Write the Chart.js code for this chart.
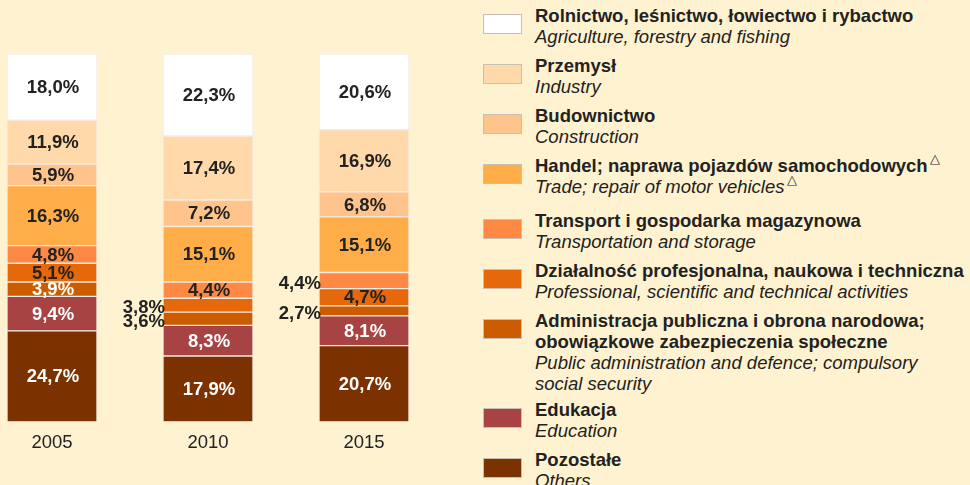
<!DOCTYPE html>
<html>
<head>
<meta charset="utf-8">
<script src="https://cdn.jsdelivr.net/npm/chart.js@4.4.0/dist/chart.umd.min.js"></script>
<style>
html, body { margin: 0; padding: 0; background: #fff2d0; width: 970px; height: 485px; overflow: hidden;
  font-family: "Liberation Sans", Arial, sans-serif; color: #222; }
#chartBox { position: absolute; left: -26px; top: 0; width: 468px; height: 485px; }
#legend { position: absolute; left: 483px; top: 5px; }
.item { display: flex; margin-bottom: 8px; }
.sw { width: 37px; height: 18px; border: 1px solid #c9c0b5; margin-top: 9px; margin-right: 13px; flex: none; }
.pl { font-weight: bold; font-size: 18.5px; line-height: 21px; white-space: nowrap; }
.en { font-style: italic; font-size: 18.5px; line-height: 21px; white-space: nowrap; }
.tri { display: inline-block; line-height: 0; font-size: 13px; position: relative; top: -9px; margin-left: 2px;
  font-style: normal; font-weight: normal; }
</style>
</head>
<body>
<div id="chartBox"><canvas id="barChart"></canvas></div>
<div id="legend"></div>
<script>
// years on the x axis
var years = ['2005', '2010', '2015'];

// legend order (top to bottom)
var namesPl = ['Rolnictwo, leśnictwo, łowiectwo i rybactwo', 'Przemysł', 'Budownictwo',
  'Handel; naprawa pojazdów samochodowych', 'Transport i gospodarka magazynowa',
  'Działalność profesjonalna, naukowa i techniczna',
  'Administracja publiczna i obrona narodowa;<br>obowiązkowe zabezpieczenia społeczne',
  'Edukacja', 'Pozostałe'];
var namesEn = ['Agriculture, forestry and fishing', 'Industry', 'Construction',
  'Trade; repair of motor vehicles', 'Transportation and storage',
  'Professional, scientific and technical activities',
  'Public administration and defence; compulsory<br>social security',
  'Education', 'Others'];
var colors = ['#ffffff', '#ffd9a9', '#ffc38c', '#ffad49', '#fd8944', '#e5690a', '#cc5c00', '#a84343', '#7c3100'];
var labelColors = ['#222', '#222', '#222', '#222', '#222', '#222', '#fff', '#fff', '#fff'];

// values in %, per category, for 2005 / 2010 / 2015
var agriculture = [18.0, 22.3, 20.6];
var industry = [11.9, 17.4, 16.9];
var construction = [5.9, 7.2, 6.8];
var trade = [16.3, 15.1, 15.1];
var transport = [4.8, 4.4, 4.4];
var professional = [5.1, 3.8, 4.7];
var publicAdmin = [3.9, 3.6, 2.7];
var education = [9.4, 8.3, 8.1];
var others = [24.7, 17.9, 20.7];

var values = [agriculture, industry, construction, trade, transport, professional, publicAdmin, education, others];

// labels drawn beside the bar instead of inside: [category index, year index]
var outside = [[5, 1], [6, 1], [4, 2], [6, 2]];

// legend
var lg = document.getElementById('legend');
namesPl.forEach(function (n, i) {
  var tri = i === 3 ? '<span class="tri">△</span>' : '';
  var d = document.createElement('div');
  d.className = 'item';
  if (i === 3) d.style.marginBottom = '13px';
  if (i === 6) d.style.marginBottom = '5px';
  d.innerHTML = '<div class="sw" style="background:' + colors[i] + '"></div><div><div class="pl">' + n + tri +
    '</div><div class="en">' + namesEn[i] + tri + '</div></div>';
  lg.appendChild(d);
});

// stacked bottom-up, so reverse the legend order
var datasets = [];
for (var i = values.length - 1; i >= 0; i--) {
  datasets.push({
    label: namesEn[i],
    data: values[i],
    backgroundColor: colors[i],
    borderColor: '#f3ece4',
    borderWidth: 1,
    borderSkipped: false,
    barThickness: 90,
    catIndex: i
  });
}

var valueLabels = {
  id: 'valueLabels',
  afterDatasetsDraw: function (chart) {
    var ctx = chart.ctx;
    ctx.save();
    ctx.font = 'bold 18.5px "Liberation Sans", Arial, sans-serif';
    ctx.textBaseline = 'middle';
    chart.data.datasets.forEach(function (ds, di) {
      chart.getDatasetMeta(di).data.forEach(function (bar, j) {
        var txt = ds.data[j].toFixed(1).replace('.', ',') + '%';
        var cy = (bar.y + bar.base) / 2 + 1;
        var out = outside.some(function (o) { return o[0] === ds.catIndex && o[1] === j; });
        if (out) {
          ctx.fillStyle = '#222';
          ctx.textAlign = 'right';
          ctx.fillText(txt, bar.x - bar.width / 2 + 2, cy + 2);
        } else {
          ctx.fillStyle = labelColors[ds.catIndex];
          ctx.textAlign = 'center';
          ctx.fillText(txt, bar.x + 1, cy);
        }
      });
    });
    ctx.restore();
  }
};

var ctx = document.getElementById('barChart').getContext('2d');
var myChart = new Chart(ctx, {
  type: 'bar',
  data: { labels: years, datasets: datasets },
  options: {
    responsive: true,
    maintainAspectRatio: false,
    animation: false,
    layout: { padding: { top: 54, bottom: 29, left: 0, right: 0 } },
    plugins: { legend: { display: false }, tooltip: { enabled: false } },
    scales: {
      x: {
        stacked: true,
        grid: { display: false },
        border: { display: false },
        ticks: { color: '#222', font: { size: 18.5, family: '"Liberation Sans", Arial, sans-serif' }, padding: 2 }
      },
      y: { stacked: true, display: false, min: 0, max: 100 }
    }
  },
  plugins: [valueLabels]
});
</script>
</body>
</html>
